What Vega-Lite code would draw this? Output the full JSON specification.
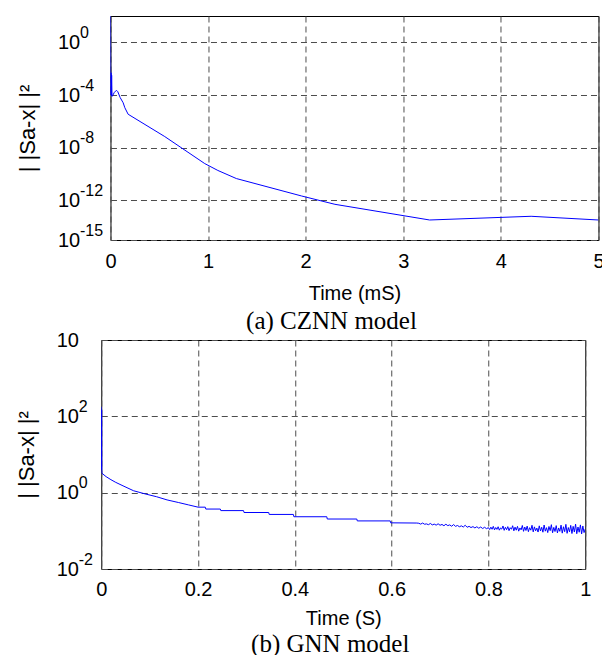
{
  "$schema": "https://vega.github.io/schema/vega-lite/v6.json",
  "padding": {"left": 14, "top": 15, "right": 0, "bottom": 0},
  "background": "white",
  "spacing": -6,
  "bounds": "full",
  "center": true,
  "config": {
    "view": {"stroke": "black", "strokeWidth": 1},
    "font": "Liberation Sans",
    "axis": {
      "domain": false,
      "ticks": false,
      "tickSize": 0,
      "grid": true,
      "gridDash": [6, 4],
      "gridColor": "#4d4d4d",
      "gridOpacity": 1,
      "gridWidth": 1,
      "labelFont": "Liberation Sans",
      "labelFontSize": 20,
      "labelColor": "black",
      "titleFont": "Liberation Sans",
      "titleFontSize": 22,
      "titleFontWeight": "normal",
      "titleColor": "black"
    },
    "axisX": {"labelFlush": false, "titleFontSize": 20},
    "axisY": {"labelAlign": "left", "labelBaseline": "middle", "titlePadding": 18},
    "title": {"font": "Liberation Serif", "fontSize": 25, "fontWeight": "normal", "color": "black", "orient": "bottom", "anchor": "middle"}
  },
  "datasets": {
    "czn": [
      {"time": 0, "error": 100},
      {"time": 0.003, "error": 1e-4},
      {"time": 0.006, "error": 5e-3},
      {"time": 0.009, "error": 8.9e-5},
      {"time": 0.012, "error": 3.2e-3},
      {"time": 0.016, "error": 7.9e-5},
      {"time": 0.02, "error": 8.5e-5},
      {"time": 0.04, "error": 1.6e-4},
      {"time": 0.061, "error": 2.3e-4},
      {"time": 0.075, "error": 1.8e-4},
      {"time": 0.1, "error": 6.3e-5},
      {"time": 0.13, "error": 2.6e-5},
      {"time": 0.147, "error": 1.1e-5},
      {"time": 0.181, "error": 3.5e-6},
      {"time": 0.556, "error": 7.1e-8},
      {"time": 0.966, "error": 6.3e-10},
      {"time": 1.1, "error": 1.9e-10},
      {"time": 1.29, "error": 4.6e-11},
      {"time": 1.957, "error": 2.2e-12},
      {"time": 2.3, "error": 5.1e-13},
      {"time": 3.27, "error": 3.3e-14},
      {"time": 4.31, "error": 6.3e-14},
      {"time": 5, "error": 3.3e-14}
    ],
    "gnn": [
      {"time": 0, "error": 178},
      {"time": 0.0004, "error": 4},
      {"time": 0.0008, "error": 150},
      {"time": 0.0012, "error": 3.24},
      {"time": 0.01, "error": 2.63},
      {"time": 0.02, "error": 2.19},
      {"time": 0.03, "error": 1.86},
      {"time": 0.045, "error": 1.51},
      {"time": 0.067, "error": 1.12},
      {"time": 0.09, "error": 0.933},
      {"time": 0.114, "error": 0.785},
      {"time": 0.136, "error": 0.646},
      {"time": 0.16, "error": 0.55},
      {"time": 0.18, "error": 0.479},
      {"time": 0.2, "error": 0.417},
      {"time": 0.215, "error": 0.417},
      {"time": 0.216, "error": 0.372},
      {"time": 0.246, "error": 0.372},
      {"time": 0.247, "error": 0.339},
      {"time": 0.294, "error": 0.339},
      {"time": 0.295, "error": 0.302},
      {"time": 0.346, "error": 0.302},
      {"time": 0.347, "error": 0.269},
      {"time": 0.397, "error": 0.269},
      {"time": 0.398, "error": 0.234},
      {"time": 0.466, "error": 0.234},
      {"time": 0.467, "error": 0.204},
      {"time": 0.528, "error": 0.204},
      {"time": 0.529, "error": 0.182},
      {"time": 0.597, "error": 0.182},
      {"time": 0.598, "error": 0.162},
      {"time": 0.652, "error": 0.16},
      {"time": 0.656, "error": 0.158},
      {"time": 0.66, "error": 0.15},
      {"time": 0.664, "error": 0.16},
      {"time": 0.668, "error": 0.149},
      {"time": 0.672, "error": 0.152},
      {"time": 0.676, "error": 0.145},
      {"time": 0.68, "error": 0.156},
      {"time": 0.684, "error": 0.143},
      {"time": 0.688, "error": 0.15},
      {"time": 0.692, "error": 0.141},
      {"time": 0.696, "error": 0.153},
      {"time": 0.7, "error": 0.14},
      {"time": 0.704, "error": 0.147},
      {"time": 0.708, "error": 0.136},
      {"time": 0.712, "error": 0.149},
      {"time": 0.716, "error": 0.137},
      {"time": 0.72, "error": 0.143},
      {"time": 0.724, "error": 0.132},
      {"time": 0.728, "error": 0.146},
      {"time": 0.732, "error": 0.131},
      {"time": 0.736, "error": 0.138},
      {"time": 0.74, "error": 0.128},
      {"time": 0.744, "error": 0.135},
      {"time": 0.748, "error": 0.126},
      {"time": 0.752, "error": 0.14},
      {"time": 0.756, "error": 0.124},
      {"time": 0.76, "error": 0.131},
      {"time": 0.764, "error": 0.122},
      {"time": 0.768, "error": 0.129},
      {"time": 0.772, "error": 0.119},
      {"time": 0.776, "error": 0.128},
      {"time": 0.78, "error": 0.117},
      {"time": 0.784, "error": 0.126},
      {"time": 0.788, "error": 0.115},
      {"time": 0.792, "error": 0.124},
      {"time": 0.796, "error": 0.114},
      {"time": 0.8, "error": 0.121},
      {"time": 0.8025, "error": 0.108},
      {"time": 0.805, "error": 0.125},
      {"time": 0.8075, "error": 0.11},
      {"time": 0.81, "error": 0.131},
      {"time": 0.8125, "error": 0.106},
      {"time": 0.815, "error": 0.122},
      {"time": 0.8175, "error": 0.109},
      {"time": 0.82, "error": 0.128},
      {"time": 0.8225, "error": 0.104},
      {"time": 0.825, "error": 0.119},
      {"time": 0.8275, "error": 0.111},
      {"time": 0.83, "error": 0.134},
      {"time": 0.8325, "error": 0.103},
      {"time": 0.835, "error": 0.124},
      {"time": 0.8375, "error": 0.107},
      {"time": 0.84, "error": 0.129},
      {"time": 0.8425, "error": 0.101},
      {"time": 0.845, "error": 0.121},
      {"time": 0.8475, "error": 0.11},
      {"time": 0.85, "error": 0.136},
      {"time": 0.8525, "error": 0.1},
      {"time": 0.855, "error": 0.125},
      {"time": 0.8575, "error": 0.104},
      {"time": 0.86, "error": 0.131},
      {"time": 0.8625, "error": 0.098},
      {"time": 0.865, "error": 0.119},
      {"time": 0.8675, "error": 0.106},
      {"time": 0.87, "error": 0.138},
      {"time": 0.8725, "error": 0.097},
      {"time": 0.875, "error": 0.126},
      {"time": 0.8775, "error": 0.102},
      {"time": 0.88, "error": 0.133},
      {"time": 0.8825, "error": 0.095},
      {"time": 0.885, "error": 0.121},
      {"time": 0.8875, "error": 0.104},
      {"time": 0.89, "error": 0.14},
      {"time": 0.8925, "error": 0.094},
      {"time": 0.895, "error": 0.127},
      {"time": 0.8975, "error": 0.1},
      {"time": 0.9, "error": 0.118},
      {"time": 0.9025, "error": 0.093},
      {"time": 0.905, "error": 0.135},
      {"time": 0.9075, "error": 0.099},
      {"time": 0.91, "error": 0.124},
      {"time": 0.9125, "error": 0.092},
      {"time": 0.915, "error": 0.142},
      {"time": 0.9175, "error": 0.098},
      {"time": 0.92, "error": 0.121},
      {"time": 0.9225, "error": 0.09},
      {"time": 0.925, "error": 0.13},
      {"time": 0.9275, "error": 0.101},
      {"time": 0.93, "error": 0.145},
      {"time": 0.9325, "error": 0.089},
      {"time": 0.935, "error": 0.123},
      {"time": 0.9375, "error": 0.096},
      {"time": 0.94, "error": 0.137},
      {"time": 0.9425, "error": 0.088},
      {"time": 0.945, "error": 0.119},
      {"time": 0.9475, "error": 0.097},
      {"time": 0.95, "error": 0.141},
      {"time": 0.9525, "error": 0.087},
      {"time": 0.955, "error": 0.128},
      {"time": 0.9575, "error": 0.095},
      {"time": 0.96, "error": 0.148},
      {"time": 0.9625, "error": 0.086},
      {"time": 0.965, "error": 0.122},
      {"time": 0.9675, "error": 0.094},
      {"time": 0.97, "error": 0.139},
      {"time": 0.9725, "error": 0.085},
      {"time": 0.975, "error": 0.131},
      {"time": 0.9775, "error": 0.093},
      {"time": 0.98, "error": 0.15},
      {"time": 0.9825, "error": 0.084},
      {"time": 0.985, "error": 0.126},
      {"time": 0.9875, "error": 0.092},
      {"time": 0.99, "error": 0.143},
      {"time": 0.9925, "error": 0.083},
      {"time": 0.995, "error": 0.134},
      {"time": 0.9975, "error": 0.09},
      {"time": 1, "error": 0.112}
    ]
  },
  "vconcat": [
    {
      "width": 488,
      "height": 224,
      "title": {"text": "(a) CZNN model", "dx": -23, "offset": 6},
      "data": {"name": "czn"},
      "encoding": {
        "x": {
          "field": "time", "type": "quantitative",
          "scale": {"domain": [0, 5], "nice": false, "zero": false},
          "axis": {"values": [0, 1, 2, 3, 4, 5], "format": "~g", "title": "Time (mS)", "labelPadding": 11, "titlePadding": 12}
        }
      },
      "layer": [
        {
          "mark": {"type": "line", "color": "#0000ff", "strokeWidth": 1, "clip": true},
          "encoding": {
            "y": {
              "field": "error", "type": "quantitative",
              "scale": {"type": "log", "domain": [1e-15, 100], "nice": false},
              "axis": {
                "values": [1e-15, 1e-12, 1e-8, 1e-4, 1],
                "labelExpr": "'10'",
                "labelPadding": 53,
                "title": "| |Sa-x| |²"
              }
            }
          }
        },
        {
          "mark": {"type": "line", "opacity": 0},
          "encoding": {
            "y": {
              "field": "error", "type": "quantitative",
              "scale": {"type": "log", "domain": [1e-15, 100], "nice": false},
              "axis": {
                "orient": "left",
                "values": [1e-15, 1e-12, 1e-8, 1e-4, 1],
                "labelExpr": "datum.value >= 0.5 ? '0' : datum.value >= 5e-5 ? '-4' : datum.value >= 5e-9 ? '-8' : datum.value >= 5e-13 ? '-12' : '-15'",
                "labelFontSize": 16,
                "labelPadding": 31,
                "labelOffset": -10,
                "grid": false,
                "title": null
              }
            }
          }
        }
      ],
      "resolve": {"axis": {"y": "independent"}}
    },
    {
      "width": 484,
      "height": 229,
      "title": {"text": "(b) GNN model", "dx": -13, "offset": 4},
      "data": {"name": "gnn"},
      "encoding": {
        "x": {
          "field": "time", "type": "quantitative",
          "scale": {"domain": [0, 1], "nice": false, "zero": false},
          "axis": {"values": [0, 0.2, 0.4, 0.6, 0.8, 1], "format": "~g", "title": "Time (S)", "labelPadding": 10, "titlePadding": 9}
        }
      },
      "layer": [
        {
          "mark": {"type": "line", "color": "#0000ff", "strokeWidth": 1, "clip": true},
          "encoding": {
            "y": {
              "field": "error", "type": "quantitative",
              "scale": {"type": "log", "domain": [0.01, 10000], "nice": false},
              "axis": {
                "values": [0.01, 1, 100, 10000],
                "labelExpr": "'10'",
                "labelPadding": 45,
                "title": "| |Sa-x| |²"
              }
            }
          }
        },
        {
          "mark": {"type": "line", "opacity": 0},
          "encoding": {
            "y": {
              "field": "error", "type": "quantitative",
              "scale": {"type": "log", "domain": [0.01, 10000], "nice": false},
              "axis": {
                "orient": "left",
                "values": [0.01, 1, 100, 10000],
                "labelExpr": "datum.value >= 5000 ? '' : datum.value >= 50 ? '2' : datum.value >= 0.5 ? '0' : '-2'",
                "labelFontSize": 16,
                "labelPadding": 23,
                "labelOffset": -10,
                "grid": false,
                "title": null
              }
            }
          }
        },
        {
          "mark": {"type": "line", "opacity": 0},
          "encoding": {
            "y": {
              "field": "error", "type": "quantitative",
              "scale": {"type": "log", "domain": [0.01, 10000], "nice": false},
              "axis": {
                "orient": "right",
                "labels": false,
                "grid": false,
                "title": "|",
                "titleColor": "rgba(0,0,0,0)",
                "titleFontSize": 20,
                "titlePadding": 8
              }
            }
          }
        }
      ],
      "resolve": {"axis": {"y": "independent"}}
    }
  ]
}
